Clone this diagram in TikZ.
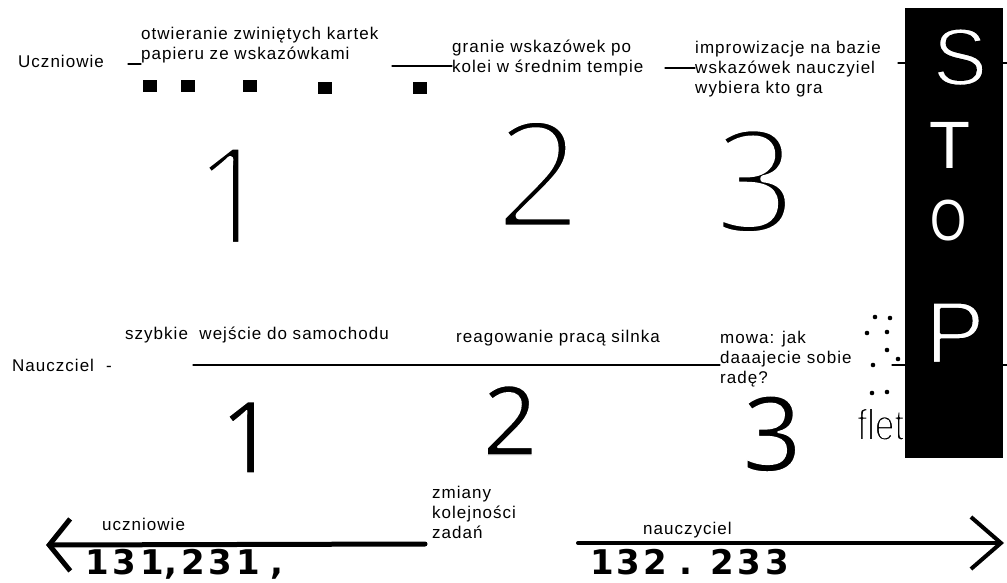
\documentclass[tikz,border=0pt]{standalone}
\usepackage{fontspec}
\setmainfont{Liberation Sans}
\usetikzlibrary{arrows.meta}
\newfontfamily\lblfont{Liberation Sans}[LetterSpace=6]
\newfontfamily\handA{Noto Sans}[FakeBold=4.5]
\newfontfamily\handB{Noto Sans}[FakeBold=1.5]
\newfontfamily\handC{Liberation Sans}[FakeBold=2.5]
\newfontfamily\handD{Liberation Sans}[FakeBold=4]
\newfontfamily\boldhand{DejaVu Sans}[UprightFont={* Bold}]
\newcommand\mlines[1]{\begin{tabular}[t]{@{}l@{}}#1\end{tabular}}
\newcommand\thinit[1]{\special{pdf:literal direct 1 G 1 j}#1\special{pdf:literal direct 0 G 0 j}}
\newcommand\thinwhite[1]{\special{pdf:literal direct 0 G 1 j}#1\special{pdf:literal direct 0 j}}
\begin{document}
\begin{tikzpicture}[x=1pt,y=-1pt,line cap=round]
\tikzset{
  lbl/.style={inner sep=0pt,anchor=base west,font=\lblfont\fontsize{17}{20}\selectfont},
  dig/.style={inner sep=0pt,anchor=base},
  conn/.style={line width=1.2pt},
  arrL/.style={line width=5pt,-{Straight Barb[length=21pt,width=52pt]}},
  arrR/.style={line width=4pt,-{Straight Barb[length=30pt,width=52pt]}},
  hw/.style={inner sep=0pt,anchor=base west}
}
\useasboundingbox (0,0) rectangle (1007,583);
\fill[white] (0,0) rectangle (1007,583);

% labels
\node[lbl] (uczn) at (18,68) {Uczniowie};
\node[lbl] (otw) at (141,40) {\mlines{otwieranie zwiniętych kartek\\papieru ze wskazówkami}};
\node[lbl] (gran) at (452,53) {\mlines{granie wskazówek po\\kolei w średnim tempie}};
\node[lbl] (impr) at (695,54) {\mlines{improwizacje na bazie\\wskazówek nauczyiel\\wybiera kto gra}};
\node[lbl] (naucz) at (12,371) {Nauczciel\hspace{12pt}-};
\node[lbl] (szyb) at (125,339) {szybkie\ \ wejście do samochodu};
\node[lbl] (reag) at (456,342) {reagowanie pracą silnka};
\node[lbl] (mowa) at (720,343) {\mlines{mowa: jak\\daaajecie sobie\\radę?}};
\node[lbl] (zmia) at (432,498) {\mlines{zmiany\\kolejności\\zadań}};
\node[lbl] (ucz2) at (102,530) {uczniowie};
\node[lbl] (nauc2) at (643,534) {nauczyciel};

% connectors (top row)
\coordinate (c1) at (128,64);
\draw[conn] (c1) -- (c1 -| otw.west);
\coordinate (c2) at (392,66);
\draw[conn] (c2) -- (c2 -| gran.west);
\coordinate (c3) at (665,68);
\draw[conn] (c3) -- (c3 -| impr.west);
\coordinate (c4a) at (898,63);
\coordinate (c4b) at (1007,63);
\draw[conn] (c4a) -- (c4b);
% connectors (bottom row)
\coordinate (t1) at (193,365);
\draw[conn] (t1) -- (t1 -| mowa.west);
\coordinate (t2a) at (892,365);
\coordinate (t2b) at (1007,365);
\draw[conn] (t2a) -- (t2b);

% squares
\foreach \x/\y in {143/80,181/80,243/80,318/82,413/82}
  \fill (\x,\y) rectangle ++(14,12);

% dots
\foreach \x/\y in {875/317,890/318,867/333,887/332,887/350,898/359,873/365,872/393,887/392}
  \fill (\x,\y) circle (2.3);

% big handwritten digits
\node[dig] (d1) at (232,245) {\thinit{\handA\fontsize{138}{138}\selectfont 1}};
\node[dig] (d2) at (538,228) {\thinit{\handA\fontsize{150}{150}\selectfont 2}};
\node[dig] (d3) at (755,233) {\thinit{\handA\fontsize{145}{145}\selectfont 3}};
\node[dig] (e1) at (248,473) {\thinit{\handB\fontsize{100}{100}\selectfont 1}};
\node[dig] (e2) at (510,455) {\thinit{\handB\fontsize{96}{96}\selectfont 2}};
\node[dig] (e3) at (772,471) {\thinit{\handB\fontsize{104}{104}\selectfont 3}};

% flet
\node[hw] (flet) at (857,440) {\scalebox{0.8}[1]{\thinit{\handD\fontsize{44}{44}\selectfont flet}}};

% STOP block
\fill[black] (905,8) rectangle (1003,458);
\node[dig,text=white] (sS) at (960,85) {\thinwhite{\handC\fontsize{81}{81}\selectfont S}};
\node[dig,text=white] (sT) at (950,168) {\fontsize{67}{67}\selectfont T};
\node[dig,text=white] (sO) at (949,240) {\scalebox{0.8}[1]{\fontsize{58}{58}\selectfont O}};
\node[dig,text=white] (sP) at (955,363) {\thinwhite{\handC\fontsize{88}{88}\selectfont P}};

% arrows
\coordinate (la) at (425,544);
\coordinate (lb) at (46,545);
\draw[arrL] (la) -- (lb);
\coordinate (ra) at (578,543);
\coordinate (rb) at (1004,543);
\draw[arrR] (ra) -- (rb);

% handwritten bold numbers
\node[hw] (n1) at (85,574) {\boldhand\fontsize{34}{34}\selectfont 1\kern4pt3\kern4pt1,\kern4pt2\kern4pt3\kern4pt1\kern10pt,};
\node[hw] (n2) at (590,574) {\boldhand\fontsize{34}{34}\selectfont 1\kern3pt3\kern3pt2\kern12pt.\kern18pt2\kern4pt3\kern4pt3};
\end{tikzpicture}
\end{document}
